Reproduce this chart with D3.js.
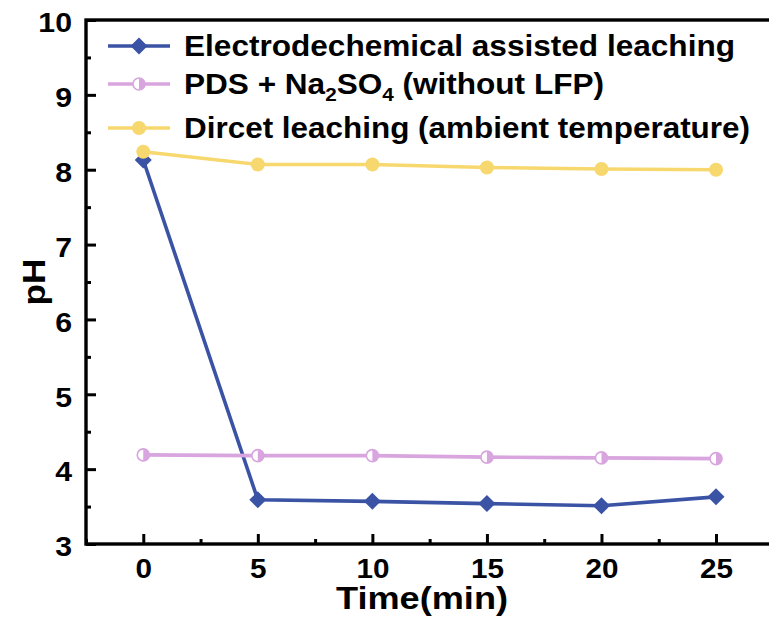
<!DOCTYPE html>
<html><head><meta charset="utf-8">
<script src="https://cdn.jsdelivr.net/npm/d3@7"></script>
<style>body{margin:0;background:#fff}svg{display:block}text{font-family:"Liberation Sans",Arial,sans-serif;font-weight:bold}</style>
</head><body><svg id="c" width="769" height="626"></svg>
<script>
const time = [0, 5, 10, 15, 20, 25];
const electro = [8.13, 3.59, 3.57, 3.54, 3.51, 3.63];
const pds = [4.19, 4.18, 4.18, 4.16, 4.15, 4.14];
const direct = [8.24, 8.07, 8.07, 8.03, 8.01, 8.00];
const xTicks = [0, 5, 10, 15, 20, 25];
const yTicks = [3, 4, 5, 6, 7, 8, 9, 10];
const names = ["Electrodechemical assisted leaching", "PDS + Na2SO4 (without LFP)", "Dircet leaching (ambient temperature)"];

const svg = d3.select("#c");
const L = 86, R = 773.3, T = 20, B = 544;
const x = d3.scaleLinear().domain([-2.5, 27.5]).range([L, R]);
const y = d3.scaleLinear().domain([3, 10]).range([B, T]);

const series = [
  {name: names[0], vals: electro, color: "#3a53a4", marker: "diamond"},
  {name: names[1], vals: pds, color: "#d8a5df", marker: "half"},
  {name: names[2], vals: direct, color: "#f7d86e", marker: "circle"}
];

function stretch(sel, k) {
  sel.each(function() {
    const w = this.getComputedTextLength();
    d3.select(this).attr("textLength", w * k).attr("lengthAdjust", "spacingAndGlyphs");
  });
}
function fitTo(sel, w) { sel.attr("textLength", w).attr("lengthAdjust", "spacingAndGlyphs"); }

function drawMarker(g, type, cx, cy, color) {
  if (type === "diamond") {
    const s = 8.5;
    g.append("path").attr("d", `M${cx},${cy-s}L${cx+s},${cy}L${cx},${cy+s}L${cx-s},${cy}Z`).attr("fill", color);
  } else if (type === "circle") {
    g.append("circle").attr("cx", cx).attr("cy", cy).attr("r", 7).attr("fill", color);
  } else {
    const r = 6;
    g.append("circle").attr("cx", cx).attr("cy", cy).attr("r", r).attr("fill", "#fff").attr("stroke", color).attr("stroke-width", 1.6);
    g.append("path").attr("d", `M${cx},${cy-r}A${r},${r} 0 0 1 ${cx},${cy+r}Z`).attr("fill", color);
  }
}

[0, 1, 2].forEach(i => {
  const s = series[i];
  const g = svg.append("g");
  const line = d3.line().x((d, j) => x(time[j])).y(d => y(d));
  g.append("path").datum(s.vals).attr("d", line).attr("fill", "none").attr("stroke", s.color).attr("stroke-width", 3.6);
  s.vals.forEach((v, j) => drawMarker(g, s.marker, x(time[j]), y(v), s.color));
});

// axes
const xAxis = d3.axisBottom(x).tickValues(xTicks).tickSize(-10).tickPadding(14).tickFormat(d3.format("d"));
const xMinor = d3.axisBottom(x).tickValues(d3.range(-2.5, 27.6, 2.5).filter(v => v % 5 !== 0)).tickSize(-5).tickFormat("");
const yAxis = d3.axisLeft(y).tickValues(yTicks).tickSize(-10).tickPadding(14).tickFormat(d3.format("d"));
const yMinor = d3.axisLeft(y).tickValues(d3.range(3.5, 10, 1)).tickSize(-5).tickFormat("");

function style(g) {
  g.select(".domain").remove();
  g.selectAll(".tick line").attr("stroke", "#000").attr("stroke-width", 3);
  g.selectAll(".tick text").attr("fill", "#000").style("font-size", "28px").style("font-weight", "bold");
}
svg.append("g").attr("transform", `translate(0,${B})`).call(xAxis).call(style)
  .selectAll(".tick text").call(stretch, 1.06);
svg.append("g").attr("transform", `translate(0,${B})`).call(xMinor).call(style);
const yg = svg.append("g").attr("transform", `translate(${L},0)`).call(yAxis).call(style);
yg.selectAll(".tick text").attr("dy", "0.42em").call(stretch, 1.08);
svg.append("g").attr("transform", `translate(${L},0)`).call(yMinor).call(style);

svg.append("rect").attr("x", L).attr("y", T).attr("width", R - L).attr("height", B - T)
  .attr("fill", "none").attr("stroke", "#000").attr("stroke-width", 3.4);

// titles
svg.append("text").attr("x", 422).attr("y", 609).attr("text-anchor", "middle").style("font-size", "31px").text("Time(min)").call(fitTo, 172);
svg.append("text").attr("transform", "translate(45,282) rotate(-90)").attr("text-anchor", "middle").style("font-size", "32px").text("pH").call(fitTo, 47);

// legend
const legY = [46, 84, 128];
const legW = [551, 420, 566];
series.forEach((s, i) => {
  const g = svg.append("g");
  g.append("line").attr("x1", 108).attr("x2", 170).attr("y1", legY[i]).attr("y2", legY[i]).attr("stroke", s.color).attr("stroke-width", 3.6);
  drawMarker(g, s.marker, 139, legY[i], s.color);
  const t = g.append("text").attr("x", 184).attr("y", legY[i] + 10).style("font-size", "29px");
  if (i === 1) {
    t.append("tspan").text("PDS + Na");
    t.append("tspan").attr("dy", 7).style("font-size", "19px").text("2");
    t.append("tspan").attr("dy", -7).text("SO");
    t.append("tspan").attr("dy", 7).style("font-size", "19px").text("4");
    t.append("tspan").attr("dy", -7).text(" (without LFP)");
  } else {
    t.text(s.name);
  }
  t.call(fitTo, legW[i]);
});
</script></body></html>
